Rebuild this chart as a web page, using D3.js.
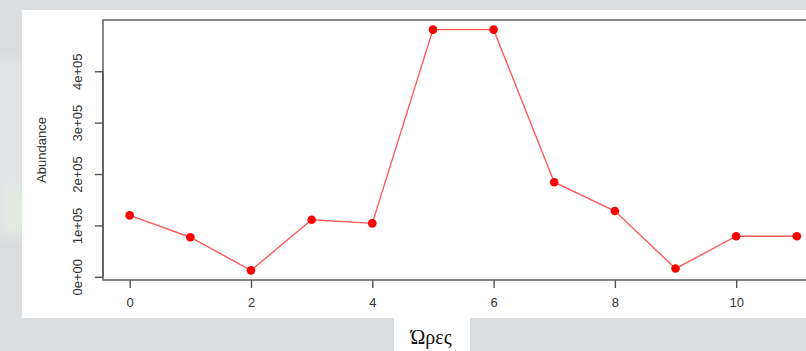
<!DOCTYPE html>
<html>
<head>
<meta charset="utf-8">
<script src="https://cdn.jsdelivr.net/npm/d3@7"></script>
<style>
  html, body { margin: 0; padding: 0; background: #d9dddf; }
  svg { display: block; }
</style>
</head>
<body>
<svg id="chart" width="806" height="351"></svg>
<script>
// Hourly abundance readings
const hours = [0, 1, 2, 3, 4, 5, 6, 7, 8, 9, 10, 11];
const abundance = [119500, 77000, 12500, 111000, 104000, 481000, 481000, 184000, 128000, 16000, 79000, 79000];
const xTicks = [0, 2, 4, 6, 8, 10];
const yTicks = [0, 100000, 200000, 300000, 400000];
const yTickLabels = ["0e+00", "1e+05", "2e+05", "3e+05", "4e+05"];
const yTitle = "Abundance";
const xTitle = "Ώρες";

const svg = d3.select("#chart");
const W = 806, H = 351;

// soft patch on the left margin of the backdrop
const defs = svg.append("defs");
const blur = defs.append("filter").attr("id", "soft").attr("x", "-50%").attr("y", "-50%").attr("width", "200%").attr("height", "200%");
blur.append("feGaussianBlur").attr("stdDeviation", 6);

svg.append("rect").attr("x", 0).attr("y", 0).attr("width", W).attr("height", H).attr("fill", "#d9dddf");
svg.append("rect").attr("x", -6).attr("y", 60).attr("width", 30).attr("height", 175)
  .attr("fill", "#e1e5e7").attr("filter", "url(#soft)");
svg.append("rect").attr("x", 8).attr("y", 190).attr("width", 14).attr("height", 45)
  .attr("fill", "#e4ecde").attr("filter", "url(#soft)");

// white plotting panel
svg.append("rect").attr("x", 22).attr("y", 10).attr("width", W - 22).attr("height", 308).attr("fill", "#ffffff");
// title box below
svg.append("rect").attr("x", 394).attr("y", 318).attr("width", 76).attr("height", H - 318).attr("fill", "#ffffff");

// R-style 4% padding on both scales
function padded(ext) {
  const r = ext[1] - ext[0];
  return [ext[0] - 0.04 * r, ext[1] + 0.04 * r];
}
const box = { left: 103, top: 20, bottom: 280 };
const xDom = padded(d3.extent(hours));
const unit = 60.65;
const x = d3.scaleLinear().domain(xDom).range([box.left, box.left + (xDom[1] - xDom[0]) * unit]);
const y = d3.scaleLinear().domain(padded(d3.extent(abundance))).range([box.bottom, box.top]);

const axisColor = "#555555";
const textColor = "#333333";
const font = "'Liberation Sans', Arial, sans-serif";

// plot box
svg.append("rect")
  .attr("x", x.range()[0]).attr("y", box.top)
  .attr("width", x.range()[1] - x.range()[0]).attr("height", box.bottom - box.top)
  .attr("fill", "none").attr("stroke", axisColor).attr("stroke-width", 1.4);

// x axis
const xAxis = svg.append("g").attr("transform", `translate(0,${box.bottom})`)
  .call(d3.axisBottom(x).tickValues(xTicks).tickSize(8).tickPadding(10).tickFormat(d3.format("d")));
xAxis.select(".domain").remove();
xAxis.selectAll(".tick line").attr("stroke", axisColor).attr("stroke-width", 1.4);
xAxis.selectAll(".tick text").attr("fill", textColor).attr("font-family", font).attr("font-size", 13);

// y axis with rotated labels
const yAxis = svg.append("g").attr("transform", `translate(${box.left},0)`)
  .call(d3.axisLeft(y).tickValues(yTicks).tickSize(8).tickFormat((d, i) => yTickLabels[i]));
yAxis.select(".domain").remove();
yAxis.append("line")
  .attr("x1", 0).attr("x2", 0)
  .attr("y1", y(yTicks[0])).attr("y2", y(yTicks[yTicks.length - 1]))
  .attr("stroke", axisColor).attr("stroke-width", 1.4);
yAxis.selectAll(".tick line").attr("stroke", axisColor).attr("stroke-width", 1.4);
yAxis.selectAll(".tick text")
  .attr("x", null).attr("dy", null)
  .attr("fill", textColor).attr("font-family", font).attr("font-size", 13)
  .attr("text-anchor", "middle").attr("dominant-baseline", "central")
  .attr("transform", "translate(-26,0) rotate(-90)");

// y title
svg.append("text")
  .attr("transform", `translate(41,${(box.top + box.bottom) / 2}) rotate(-90)`)
  .attr("text-anchor", "middle").attr("dominant-baseline", "central")
  .attr("font-family", font).attr("font-size", 13).attr("fill", textColor)
  .text(yTitle);

// series line and points
const line = d3.line().x((d, i) => x(hours[i])).y(d => y(d));
svg.append("path").datum(abundance)
  .attr("d", line).attr("fill", "none")
  .attr("stroke", "#ff5a5a").attr("stroke-width", 1.4);
svg.selectAll("circle.pt").data(abundance).enter().append("circle")
  .attr("class", "pt")
  .attr("cx", (d, i) => x(hours[i])).attr("cy", d => y(d))
  .attr("r", 4.3).attr("fill", "#ff0000");

// x title
svg.append("text")
  .attr("x", 431).attr("y", 344)
  .attr("text-anchor", "middle")
  .attr("font-family", "'Liberation Serif', 'Times New Roman', serif")
  .attr("font-size", 20).attr("fill", "#111")
  .text(xTitle);
</script>
</body>
</html>
